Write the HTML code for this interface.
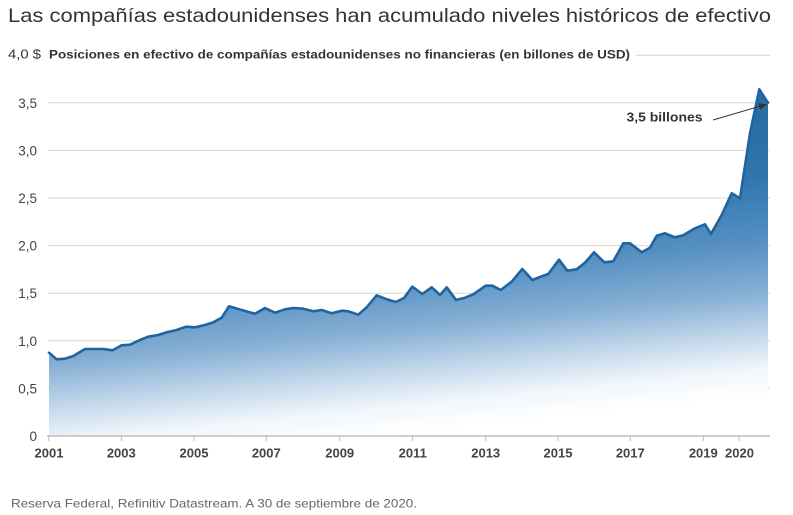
<!DOCTYPE html>
<html>
<head>
<meta charset="utf-8">
<style>
  html,body{margin:0;padding:0;background:#fff;}
  body{width:793px;height:515px;overflow:hidden;}
  svg{display:block;}
  text{font-family:"Liberation Sans",Arial,sans-serif;}
</style>
</head>
<body>
<svg width="793" height="515" viewBox="0 0 793 515" xmlns="http://www.w3.org/2000/svg">
  <defs>
    <linearGradient id="fillg" gradientUnits="userSpaceOnUse" x1="400" y1="90" x2="435" y2="430">
      <stop offset="0" stop-color="#24679f"/>
      <stop offset="0.35" stop-color="#2e74ad"/>
      <stop offset="0.55" stop-color="#5690c2"/>
      <stop offset="0.70" stop-color="#88b0d5"/>
      <stop offset="0.82" stop-color="#c3d8eb"/>
      <stop offset="0.92" stop-color="#f1f6fb"/>
      <stop offset="1" stop-color="#ffffff"/>
    </linearGradient>
    <marker id="arr" markerWidth="8" markerHeight="8" refX="7" refY="4" orient="auto" markerUnits="userSpaceOnUse">
      <path d="M0,0.5 L8,4 L0,7.5 Z" fill="#333"/>
    </marker>
  </defs>

  <!-- Title -->
  <text x="8" y="22" font-size="19.5" fill="#333" textLength="763" lengthAdjust="spacingAndGlyphs">Las compañías estadounidenses han acumulado niveles históricos de efectivo</text>

  <!-- Subtitle -->
  <text x="8" y="58.5" font-size="12.5" fill="#333" textLength="33" lengthAdjust="spacingAndGlyphs">4,0 $</text>
  <text x="49" y="58.5" font-size="12" font-weight="bold" fill="#333" textLength="581" lengthAdjust="spacingAndGlyphs">Posiciones en efectivo de compañías estadounidenses no financieras (en billones de USD)</text>
  <line x1="636" y1="55.2" x2="770" y2="55.2" stroke="#d4d4d4" stroke-width="1"/>

  <!-- Gridlines -->
  <g stroke="#d6d6d6" stroke-width="1">
    <line x1="48" y1="388.4" x2="770" y2="388.4"/>
    <line x1="48" y1="340.8" x2="770" y2="340.8"/>
    <line x1="48" y1="293.2" x2="770" y2="293.2"/>
    <line x1="48" y1="245.6" x2="770" y2="245.6"/>
    <line x1="48" y1="198" x2="770" y2="198"/>
    <line x1="48" y1="150.4" x2="770" y2="150.4"/>
    <line x1="48" y1="102.8" x2="770" y2="102.8"/>
  </g>

  <!-- Y labels -->
  <g font-size="13.5" fill="#444" text-anchor="end">
    <text x="37" y="441">0</text>
    <text x="37" y="393.4">0,5</text>
    <text x="37" y="345.8">1,0</text>
    <text x="37" y="298.2">1,5</text>
    <text x="37" y="250.6">2,0</text>
    <text x="37" y="203">2,5</text>
    <text x="37" y="155.4">3,0</text>
    <text x="37" y="107.8">3,5</text>
  </g>

  <!-- Area -->
  <path fill="url(#fillg)" stroke="none" d="M49,352.7 L56.7,359.3 L65,358.7 L73.3,356 L85,349 L93.3,349 L103.3,349 L112.7,350.3 L121.7,345.3 L130,344.7 L140,340 L148.3,336.7 L158.3,335 L166.7,332.3 L176.7,330 L186,326.7 L195,327.3 L205,325 L213.3,322.3 L221.7,317.7 L229,306.3 L245,311 L255,313.7 L265,308 L275,312.7 L285,309.3 L293.3,308 L303.3,308.7 L313.3,311.3 L321.7,310 L331.7,313.3 L341.7,310.7 L348.3,311.3 L358.3,314.7 L366.7,307.3 L376.7,295.3 L386.7,299.3 L395.7,302 L404,298 L412.3,286.7 L422.3,294 L431.7,287.3 L440,295 L446.7,287.3 L456,300 L465,297.7 L473.3,294.3 L485.7,285.7 L492.3,285.7 L500.7,290 L511.7,281.7 L522.3,269 L532.3,280 L540.7,276.7 L548.3,274 L559,259.7 L567.3,270.7 L576.7,269.3 L585,262.7 L594,252.3 L604.3,262.3 L613.3,261.3 L623.3,243.3 L630,243.3 L641.7,252.3 L650,247.7 L656.7,235.7 L665,233.3 L675,237.3 L683.3,235.3 L695,228.3 L705,224.3 L711,234 L721.7,215 L731.7,193.3 L740,198.3 L750,133.3 L759.3,89.3 L768,102.7 L768,436 L49,436 Z"/>

  <!-- Line -->
  <path fill="none" stroke="#1f63a0" stroke-width="2.6" stroke-linejoin="round" stroke-linecap="round" d="M49,352.7 L56.7,359.3 L65,358.7 L73.3,356 L85,349 L93.3,349 L103.3,349 L112.7,350.3 L121.7,345.3 L130,344.7 L140,340 L148.3,336.7 L158.3,335 L166.7,332.3 L176.7,330 L186,326.7 L195,327.3 L205,325 L213.3,322.3 L221.7,317.7 L229,306.3 L245,311 L255,313.7 L265,308 L275,312.7 L285,309.3 L293.3,308 L303.3,308.7 L313.3,311.3 L321.7,310 L331.7,313.3 L341.7,310.7 L348.3,311.3 L358.3,314.7 L366.7,307.3 L376.7,295.3 L386.7,299.3 L395.7,302 L404,298 L412.3,286.7 L422.3,294 L431.7,287.3 L440,295 L446.7,287.3 L456,300 L465,297.7 L473.3,294.3 L485.7,285.7 L492.3,285.7 L500.7,290 L511.7,281.7 L522.3,269 L532.3,280 L540.7,276.7 L548.3,274 L559,259.7 L567.3,270.7 L576.7,269.3 L585,262.7 L594,252.3 L604.3,262.3 L613.3,261.3 L623.3,243.3 L630,243.3 L641.7,252.3 L650,247.7 L656.7,235.7 L665,233.3 L675,237.3 L683.3,235.3 L695,228.3 L705,224.3 L711,234 L721.7,215 L731.7,193.3 L740,198.3 L750,133.3 L759.3,89.3 L768,102.7"/>

  <!-- X axis -->
  <line x1="47" y1="436" x2="770" y2="436" stroke="#bdbdbd" stroke-width="1.5"/>
  <g stroke="#bdbdbd" stroke-width="1">
    <line x1="48.7" y1="436" x2="48.7" y2="441"/>
    <line x1="121.3" y1="436" x2="121.3" y2="441"/>
    <line x1="194" y1="436" x2="194" y2="441"/>
    <line x1="266.3" y1="436" x2="266.3" y2="441"/>
    <line x1="339.7" y1="436" x2="339.7" y2="441"/>
    <line x1="412.7" y1="436" x2="412.7" y2="441"/>
    <line x1="485.7" y1="436" x2="485.7" y2="441"/>
    <line x1="558" y1="436" x2="558" y2="441"/>
    <line x1="630.3" y1="436" x2="630.3" y2="441"/>
    <line x1="703.3" y1="436" x2="703.3" y2="441"/>
    <line x1="739" y1="436" x2="739" y2="441"/>
  </g>
  <g font-size="13" font-weight="bold" fill="#444" text-anchor="middle">
    <text x="49" y="457.5">2001</text>
    <text x="121.3" y="457.5">2003</text>
    <text x="194" y="457.5">2005</text>
    <text x="266.3" y="457.5">2007</text>
    <text x="339.7" y="457.5">2009</text>
    <text x="412.7" y="457.5">2011</text>
    <text x="485.7" y="457.5">2013</text>
    <text x="558" y="457.5">2015</text>
    <text x="630.3" y="457.5">2017</text>
    <text x="703.3" y="457.5">2019</text>
    <text x="739.5" y="457.5">2020</text>
  </g>

  <!-- Annotation -->
  <text x="626.5" y="121.5" font-size="13" font-weight="bold" fill="#333" textLength="76" lengthAdjust="spacingAndGlyphs">3,5 billones</text>
  <line x1="713" y1="120" x2="766" y2="104.5" stroke="#333" stroke-width="1" marker-end="url(#arr)"/>

  <!-- Footer -->
  <text x="11" y="507.5" font-size="12" fill="#666" textLength="406" lengthAdjust="spacingAndGlyphs">Reserva Federal, Refinitiv Datastream. A 30 de septiembre de 2020.</text>
</svg>
</body>
</html>
